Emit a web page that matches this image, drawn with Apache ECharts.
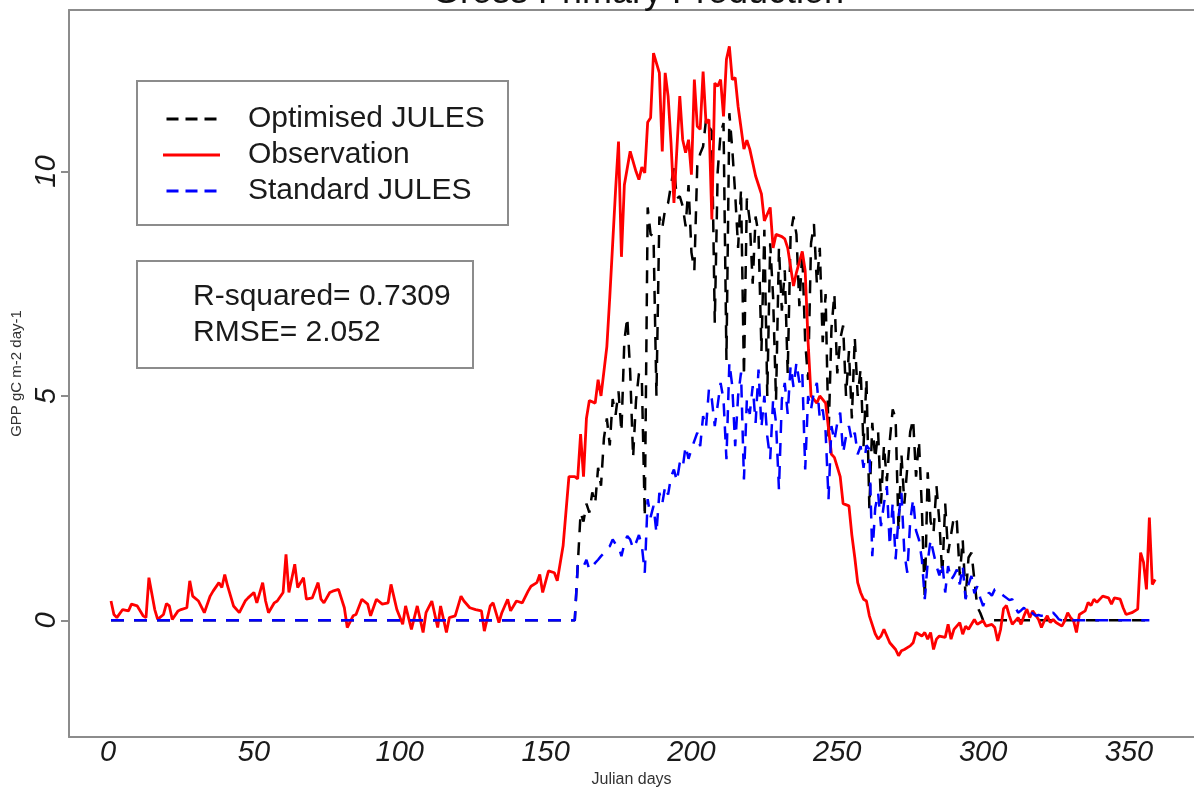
<!DOCTYPE html>
<html>
<head>
<meta charset="utf-8">
<script src="https://cdn.jsdelivr.net/npm/echarts@6/dist/echarts.min.js"></script>
<style>
html,body{margin:0;padding:0;background:#fff;}
#chart{width:1194px;height:789px;}
</style>
</head>
<body>
<div id="chart"></div>
<script>
// ---- data (Julian day, GPP gC m-2 day-1) ----
const xTicks = [0, 50, 100, 150, 200, 250, 300, 350];
const yTicks = [0, 5, 10];
const seriesNames = ['Optimised JULES', 'Observation', 'Standard JULES'];
const statsLines = ['R-squared= 0.7309', 'RMSE= 2.052'];

const obsData = [[1,0.43],[2,0.13],[3,0.06],[5,0.24],[7,0.21],[8,0.36],[10,0.32],[12,0.10],[13,0.06],[14,0.95],[16,0.24],[17,0.02],[19,0.13],[20,0.37],[21,0.32],[22,0.02],[24,0.21],[25,0.24],[27,0.28],[28,0.88],[29,0.54],[31,0.43],[33,0.17],[35,0.54],[36,0.65],[38,0.84],[39,0.73],[40,1.02],[41,0.76],[43,0.32],[45,0.17],[47,0.43],[48,0.50],[50,0.62],[51,0.39],[53,0.84],[54,0.43],[55,0.17],[57,0.39],[58,0.43],[60,0.62],[61,1.47],[62,0.62],[64,1.25],[65,0.73],[67,0.95],[68,0.47],[70,0.50],[72,0.84],[73,0.47],[74,0.39],[76,0.62],[77,0.65],[79,0.69],[81,0.28],[82,-0.16],[84,0.10],[85,0.13],[87,0.47],[89,0.36],[90,0.10],[92,0.47],[94,0.36],[96,0.39],[97,0.80],[99,0.24],[101,-0.09],[102,0.32],[104,-0.20],[106,0.32],[108,-0.27],[109,0.17],[111,0.43],[113,-0.16],[114,0.32],[116,-0.27],[117,0.06],[119,0.10],[121,0.54],[122,0.43],[124,0.28],[126,0.24],[128,0.21],[129,-0.24],[131,0.32],[132,0.39],[134,-0.05],[135,0.17],[137,0.47],[138,0.21],[140,0.43],[142,0.39],[144,0.65],[145,0.76],[147,0.84],[148,1.02],[149,0.62],[151,1.10],[153,1.06],[154,0.88],[156,1.66],[158,3.2],[160,3.2],[161,3.15],[162,4.15],[163,3.2],[164,4.5],[165,4.9],[167,4.84],[168,5.36],[169,5.0],[171,6.1],[172,7.2],[173,8.4],[174,9.6],[175,10.67],[176,8.1],[177,9.7],[179,10.45],[181,10.0],[182,9.82],[183,10.1],[184,9.97],[185,11.1],[186,11.2],[187,12.64],[189,12.2],[190,10.45],[191,12.2],[192,11.68],[193,10.64],[194,9.3],[196,11.68],[197,10.71],[198,10.42],[199,10.71],[200,9.93],[201,12.05],[202,11.01],[203,10.94],[204,12.23],[205,11.08],[206,11.16],[207,8.93],[208,11.97],[209,11.9],[210,12.05],[211,11.23],[212,12.5],[213,12.79],[214,12.05],[215,12.09],[216,11.45],[218,10.5],[219,10.7],[220,10.5],[222,9.9],[224,9.5],[225,8.9],[227,9.2],[228,8.3],[229,8.6],[231,8.55],[232,8.5],[233,8.3],[235,7.45],[236,7.75],[238,8.22],[239,7.79],[240,6.2],[241,5.0],[243,4.84],[244,5.0],[246,4.84],[248,3.7],[249,3.63],[251,3.2],[252,2.6],[254,2.55],[255,1.9],[256,1.4],[257,0.84],[258,0.62],[259,0.47],[260,0.43],[261,0.1],[263,-0.3],[264,-0.42],[265,-0.35],[266,-0.2],[267,-0.35],[268,-0.5],[270,-0.65],[271,-0.79],[272,-0.68],[273,-0.65],[275,-0.57],[276,-0.5],[277,-0.27],[279,-0.35],[280,-0.27],[281,-0.42],[282,-0.27],[283,-0.65],[284,-0.42],[285,-0.35],[287,-0.38],[288,-0.09],[289,-0.42],[290,-0.2],[292,-0.05],[293,-0.31],[294,-0.13],[295,-0.2],[297,0.02],[298,-0.09],[299,-0.05],[300,-0.01],[301,-0.13],[303,-0.09],[304,-0.16],[305,-0.46],[306,-0.2],[307,0.26],[308,0.33],[309,0.1],[310,-0.09],[312,0.06],[313,-0.09],[314,0.1],[315,0.25],[316,0.06],[317,0.21],[319,0.02],[320,-0.16],[321,-0.01],[322,0.1],[323,-0.05],[324,0.02],[325,-0.05],[327,-0.13],[328,-0.01],[329,0.17],[330,0.06],[331,-0.01],[332,-0.27],[333,0.13],[335,0.21],[336,0.4],[337,0.33],[338,0.47],[339,0.4],[341,0.54],[343,0.5],[344,0.36],[345,0.5],[347,0.47],[348,0.28],[349,0.13],[351,0.17],[353,0.25],[354,1.51],[355,1.29],[356,0.69],[357,2.29],[358,0.8],[359,0.91]];

const optData = [[1,0],[160,0],[161,1.2],[162,2.4],[163,2.2],[164,2.6],[165,2.4],[166,2.85],[167,2.6],[168,3.4],[169,3.0],[170,4.06],[171,4.5],[172,3.9],[173,4.93],[174,4.58],[175,5.1],[176,4.2],[177,6.23],[178,6.75],[179,5.53],[180,3.63],[181,4.9],[182,5.5],[183,5.36],[184,2.3],[185,9.2],[186,8.6],[187,8.56],[188,5.0],[189,9.0],[190,8.74],[191,9.17],[192,9.3],[193,9.7],[194,10.1],[195,9.4],[196,9.45],[197,9.23],[198,8.78],[199,9.7],[200,8.2],[201,7.8],[202,10.13],[203,10.4],[204,10.56],[205,11.16],[206,11.0],[207,10.9],[208,6.63],[209,10.0],[210,10.86],[211,11.08],[212,5.8],[213,11.3],[214,10.5],[215,9.5],[216,8.3],[217,9.6],[218,5.44],[219,9.4],[220,8.9],[221,7.5],[222,9.0],[223,8.6],[224,6.0],[225,8.7],[226,5.0],[227,8.4],[228,7.2],[229,4.9],[230,8.3],[231,6.9],[232,7.8],[233,5.5],[234,8.6],[235,9.0],[236,8.6],[237,7.0],[238,8.2],[239,6.2],[240,5.36],[241,8.4],[242,8.83],[243,7.5],[244,8.3],[245,6.2],[246,7.27],[247,4.06],[248,6.5],[249,7.27],[250,5.5],[251,6.26],[252,6.57],[253,5.0],[254,6.0],[255,4.5],[256,6.3],[257,5.0],[258,5.6],[259,3.88],[260,5.37],[261,2.5],[262,4.4],[263,3.6],[264,4.2],[265,2.6],[266,3.9],[267,3.1],[268,4.0],[269,4.7],[270,4.5],[271,2.0],[272,3.7],[273,2.6],[274,3.4],[275,4.2],[276,4.48],[277,3.2],[278,4.0],[279,2.5],[280,0.47],[281,3.3],[282,2.2],[283,1.95],[284,3.0],[285,2.2],[286,1.0],[287,2.6],[288,1.5],[289,1.9],[290,2.32],[291,2.2],[292,1.0],[293,1.8],[294,0.5],[295,1.4],[296,1.51],[297,0.9],[298,0.3],[299,0.17],[300,0],[357,0]];

const stdData = [[1,0],[160,0],[161,1.21],[162,1.28],[163,1.2],[164,1.35],[165,1.13],[166,1.2],[167,1.28],[168,1.35],[169,1.43],[170,1.5],[171,1.6],[172,1.65],[173,1.8],[174,1.7],[175,1.66],[176,1.43],[177,1.7],[178,1.88],[179,1.8],[180,1.6],[181,1.73],[182,1.9],[183,1.66],[184,1.06],[185,2.7],[186,2.3],[187,2.55],[188,1.95],[189,2.84],[190,2.6],[191,2.99],[192,2.8],[193,3.2],[194,3.36],[195,3.1],[196,3.51],[197,3.4],[198,3.88],[199,3.6],[200,3.81],[201,4.0],[202,4.18],[203,3.88],[204,4.55],[205,4.3],[206,5.15],[207,4.92],[208,4.33],[209,4.8],[210,5.29],[211,4.92],[212,3.59],[213,5.74],[214,5.22],[215,3.88],[216,5.0],[217,5.52],[218,3.14],[219,4.92],[220,4.6],[221,5.22],[222,4.4],[223,5.59],[224,4.3],[225,5.0],[226,4.1],[227,3.59],[228,4.92],[229,4.4],[230,2.92],[231,4.92],[232,5.29],[233,4.6],[234,5.67],[235,5.2],[236,5.74],[237,5.3],[238,5.52],[239,3.36],[240,5.0],[241,4.7],[242,5.1],[243,5.29],[244,4.5],[245,4.7],[246,4.2],[247,2.7],[248,4.33],[249,4.0],[250,4.4],[251,4.63],[252,3.73],[253,4.1],[254,4.33],[255,4.0],[256,4.18],[257,3.7],[258,3.88],[259,3.4],[260,3.9],[261,3.81],[262,1.43],[263,2.5],[264,2.84],[265,2.1],[266,2.6],[267,2.99],[268,1.66],[269,2.62],[270,1.36],[271,2.3],[272,2.84],[273,1.5],[274,1.06],[275,2.2],[276,2.7],[277,2.0],[278,1.8],[279,1.36],[280,0.47],[281,1.3],[282,1.8],[283,1.5],[284,1.21],[285,1.0],[286,1.28],[287,0.62],[288,1.21],[289,0.9],[290,1.0],[291,1.13],[292,0.8],[293,1.21],[294,0.47],[295,0.8],[296,0.99],[297,0.6],[298,0.76],[299,0.5],[300,0.32],[301,0.5],[302,0.62],[303,0.55],[304,0.69],[305,0.69],[306,0.6],[307,0.55],[308,0.5],[309,0.45],[310,0.47],[311,0.3],[312,0.17],[313,0.22],[314,0.28],[315,0.2],[316,0.25],[317,0.15],[318,0.1],[319,0.12],[320,0.1],[321,0.12],[322,0.13],[323,0.15],[324,0.17],[325,0.1],[326,0.02],[327,0],[357,0]];

// ---- chart ----
const FONT = "'Liberation Sans', Arial, Helvetica, sans-serif";
const FRAME = '#8c8c8c';
const DASH_ICON = 'path://M0,0H12V3H0Z M19,0H31V3H19Z M38,0H50V3H38Z';
const SOLID_ICON = 'path://M0,0H57V3H0Z';
const chart = echarts.init(document.getElementById('chart'), null, {renderer: 'canvas'});

const xCommon = {type: 'value', min: -13.4, max: 372.3, splitLine: {show: false}};

const option = {
  animation: false,
  backgroundColor: '#ffffff',
  title: {
    text: 'Gross Primary Production',
    left: 638, top: -25, textAlign: 'center', padding: 0,
    textStyle: {fontFamily: FONT, fontSize: 36, fontWeight: 'normal', color: '#111'}
  },
  grid: {left: 69, top: 10, right: 0, height: 727, show: false, containLabel: false, outerBoundsMode: 'none'},
  legend: {
    data: [
      {name: seriesNames[0], icon: DASH_ICON},
      {name: seriesNames[1], icon: SOLID_ICON},
      {name: seriesNames[2], icon: DASH_ICON}
    ],
    orient: 'vertical',
    left: 163, top: 104, padding: 0,
    itemWidth: 57, itemHeight: 3, itemGap: 6,
    symbolKeepAspect: true,
    textStyle: {fontFamily: FONT, fontSize: 30, color: '#1a1a1a', padding: [0, 0, 0, 23]},
    selectedMode: false
  },
  xAxis: [
    Object.assign({}, xCommon, {
      position: 'bottom',
      name: 'Julian days', nameLocation: 'middle', nameGap: 18,
      nameTextStyle: {fontFamily: FONT, fontSize: 16, color: '#333'},
      axisLine: {show: true, onZero: false, lineStyle: {color: FRAME, width: 2}},
      axisTick: {show: false},
      axisLabel: {
        customValues: xTicks, margin: 1,
        fontFamily: FONT, fontSize: 29, fontStyle: 'italic', color: '#1a1a1a'
      }
    }),
    Object.assign({}, xCommon, {
      position: 'top',
      axisLine: {show: true, onZero: false, lineStyle: {color: FRAME, width: 2}},
      axisTick: {show: false},
      axisLabel: {show: false}
    })
  ],
  yAxis: {
    type: 'value', min: -2.6, max: 13.6,
    name: 'GPP gC m-2 day-1', nameLocation: 'middle', nameGap: 25, nameRotate: 90,
    nameTextStyle: {fontFamily: FONT, fontSize: 15, color: '#333'},
    axisLine: {show: true, onZero: false, lineStyle: {color: FRAME, width: 2}},
    axisTick: {show: true, customValues: yTicks, length: 8, inside: false, lineStyle: {color: FRAME, width: 2}},
    splitLine: {show: false},
    axisLabel: {
      customValues: yTicks, rotate: 90, margin: 8,
      fontFamily: FONT, fontSize: 29, fontStyle: 'italic', color: '#1a1a1a'
    }
  },
  series: [
    {
      name: seriesNames[0], type: 'line', xAxisIndex: 0, data: optData, symbol: 'none', showSymbol: false,
      lineStyle: {color: '#000000', width: 2.5, type: [13, 10]}, itemStyle: {color: '#000000'}, z: 2
    },
    {
      name: seriesNames[1], type: 'line', xAxisIndex: 0, data: obsData, symbol: 'none', showSymbol: false,
      lineStyle: {color: '#ff0000', width: 2.8}, itemStyle: {color: '#ff0000'}, z: 3
    },
    {
      name: seriesNames[2], type: 'line', xAxisIndex: 0, data: stdData, symbol: 'none', showSymbol: false,
      lineStyle: {color: '#0000ff', width: 2.5, type: [13, 10]}, itemStyle: {color: '#0000ff'}, z: 4
    }
  ],
  graphic: [
    {type: 'rect', shape: {x: 137, y: 81, width: 371, height: 144},
     style: {fill: 'transparent', stroke: FRAME, lineWidth: 2}, z: 10},
    {type: 'rect', shape: {x: 137, y: 261, width: 336, height: 107},
     style: {fill: 'transparent', stroke: FRAME, lineWidth: 2}, z: 10},
    {type: 'text', x: 193, y: 297,
     style: {text: statsLines[0], font: "30px 'Liberation Sans', Arial, sans-serif", fill: '#1a1a1a', verticalAlign: 'middle'}, z: 10},
    {type: 'text', x: 193, y: 333,
     style: {text: statsLines[1], font: "30px 'Liberation Sans', Arial, sans-serif", fill: '#1a1a1a', verticalAlign: 'middle'}, z: 10}
  ]
};
chart.setOption(option);
</script>
</body>
</html>
